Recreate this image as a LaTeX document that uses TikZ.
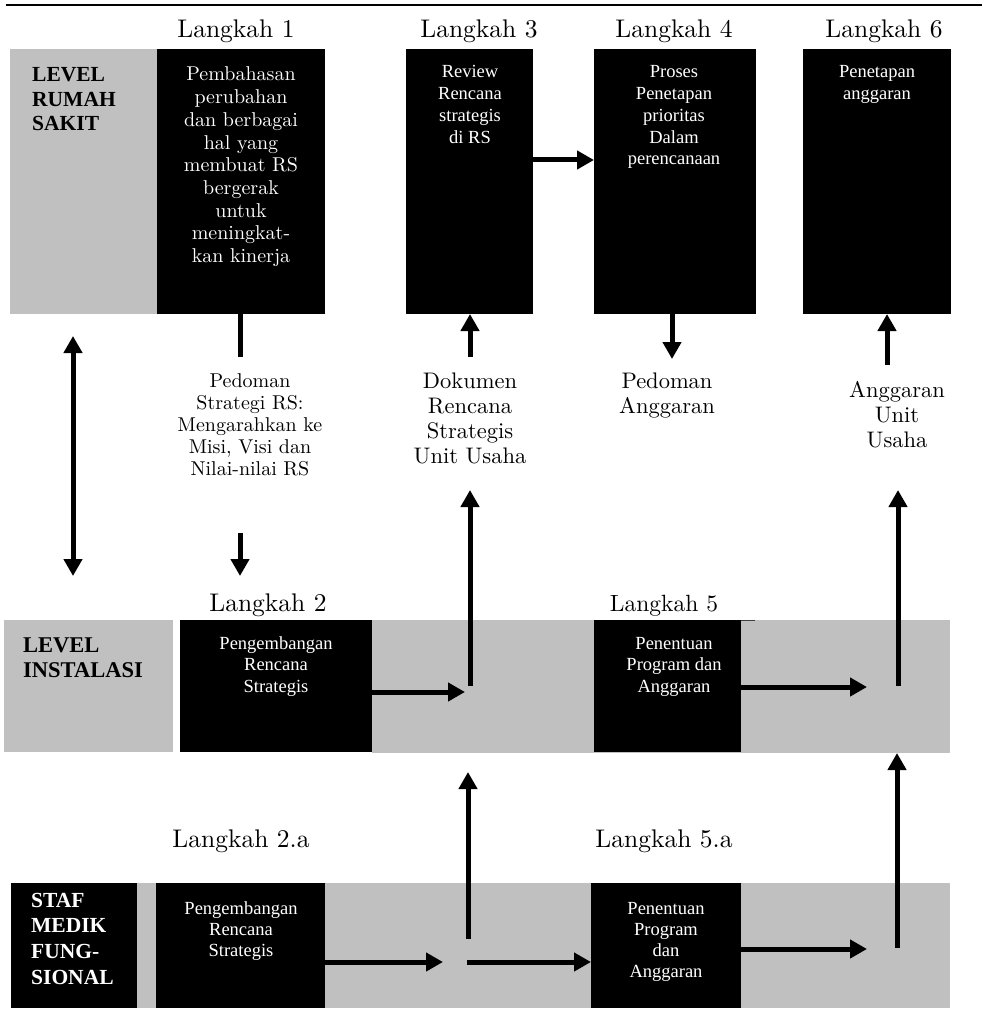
\documentclass[tikz,border=0pt]{standalone}
\usepackage{fontspec}
% keep the 10pt design of Latin Modern at every size
\setmainfont{lmroman10-regular.otf}[BoldFont=lmroman10-bold.otf, ItalicFont=lmroman10-italic.otf]
\newfontfamily\timesf{Liberation Serif}
\usetikzlibrary{arrows.meta}
\definecolor{lanegray}{HTML}{C0C0C0}
% stacked lines of text whose baseline is the first line
\newcommand{\colblock}[2][c]{\begin{tabular}[t]{@{}#1@{}}#2\end{tabular}}
\begin{document}
\begin{tikzpicture}[x=1pt,y=-1pt,
  panel/.style={fill=#1, draw=none, inner sep=0pt, outer sep=0pt, anchor=north west},
  steplabel/.style={inner sep=0pt, anchor=base, font=\fontsize{25.5pt}{28pt}\selectfont},
  inner/.style={inner sep=0pt, anchor=base, text=white, font=\timesf\fontsize{18.5pt}{21.7pt}\selectfont},
  lanename/.style={inner sep=0pt, anchor=base west, font=\timesf\bfseries\fontsize{22.5pt}{25pt}\selectfont},
  note/.style={inner sep=0pt, anchor=base, font=\fontsize{22.5pt}{25.3pt}\selectfont},
  tip/.tip={Triangle[width=18pt,length=17pt]},
  arr/.style={line width=5pt, -tip},
  dblarr/.style={line width=5pt, tip-tip},
  stub/.style={line width=5pt}
]
\useasboundingbox (0,0) rectangle (982,1011);

% rule across the top
\draw[line width=2.5pt] (6,5) -- (982,5);

% ---- hospital level ----
\node[panel=lanegray, minimum width=147pt, minimum height=265pt] (hosp) at (10,49) {};
\node[panel=black, minimum width=168pt, minimum height=265pt] (s1) at (157,49) {};
\node[panel=black, minimum width=127pt, minimum height=265pt] (s3) at (406,49) {};
\node[panel=black, minimum width=162pt, minimum height=265pt] (s4) at (594,49) {};
\node[panel=black, minimum width=148pt, minimum height=265pt] (s6) at (803,49) {};

% ---- installation level ----
\node[panel=lanegray, minimum width=169pt, minimum height=132pt] (inst) at (4,620) {};
\node[panel=lanegray, minimum width=578pt, minimum height=133pt] (instlane) at (372,620) {};
\node[panel=black, minimum width=192pt, minimum height=132pt] (s2) at (180,620) {};
\node[panel=black, minimum width=147pt, minimum height=132pt] (s5) at (594,620) {};
\draw[line width=0.6pt, black!75] (s5.north east) -- ++(14,0);

% ---- functional medical staff level ----
\node[panel=lanegray, minimum width=813pt, minimum height=125pt] (smflane) at (137,883) {};
\node[panel=black, minimum width=126pt, minimum height=125pt] (smf) at (11,883) {};
\node[panel=black, minimum width=169pt, minimum height=125pt] (s2a) at (156,883) {};
\node[panel=black, minimum width=150pt, minimum height=125pt] (s5a) at (591,883) {};

% ---- step labels ----
\node[steplabel] (t1) at (236,38) {Langkah 1};
\node[steplabel] (t3) at (479,38) {Langkah 3};
\node[steplabel] (t4) at (674,38) {Langkah 4};
\node[steplabel] (t6) at (884,38) {Langkah 6};
\node[steplabel] (t2) at (268,611) {Langkah 2};
\node[steplabel, font=\fontsize{23.5pt}{26pt}\selectfont] (t5) at (664,611) {Langkah 5};
\node[steplabel] (t2a) at (241,847) {Langkah 2.a};
\node[steplabel] (t5a) at (664,847) {Langkah 5.a};

% ---- level names ----
\node[lanename, font=\timesf\bfseries\fontsize{21.5pt}{24.5pt}\selectfont] (hospname) at (32,82)
  {\colblock[l]{LEVEL\\RUMAH\\SAKIT}};
\node[lanename] (instname) at (23,652) {\colblock[l]{LEVEL\\INSTALASI}};
\node[lanename, text=white, font=\timesf\bfseries\fontsize{21.5pt}{25.7pt}\selectfont] (smfname) at (31,907)
  {\colblock[l]{STAF\\MEDIK\\FUNG-\\SIONAL}};

% ---- texts inside the steps ----
\node[inner, font=\fontsize{20pt}{22.7pt}\selectfont] (b1) at (241,81)
  {\colblock{Pembahasan\\perubahan\\dan berbagai\\hal yang\\membuat RS\\bergerak\\untuk\\meningkat-\\kan kinerja}};
\node[inner] (b3) at (470,78) {\colblock{Review\\Rencana\\strategis\\di RS}};
\node[inner] (b4) at (674,78) {\colblock{Proses\\Penetapan\\prioritas\\Dalam\\perencanaan}};
\node[inner] (b6) at (877,78) {\colblock{Penetapan\\anggaran}};
\node[inner] (b2) at (276,649) {\colblock{Pengembangan\\Rencana\\Strategis}};
\node[inner] (b5) at (674,649) {\colblock{Penentuan\\Program dan\\Anggaran}};
\node[inner, font=\timesf\fontsize{18.5pt}{21pt}\selectfont] (b2a) at (241,914) {\colblock{Pengembangan\\Rencana\\Strategis}};
\node[inner, font=\timesf\fontsize{18.5pt}{21.3pt}\selectfont] (b5a) at (666,914) {\colblock{Penentuan\\Program\\dan\\Anggaran}};

% ---- documents passed between levels ----
\node[note, font=\fontsize{20pt}{22pt}\selectfont] (pedoman) at (250,387)
  {\colblock{Pedoman\\Strategi RS:\\Mengarahkan ke\\Misi, Visi dan\\Nilai-nilai RS}};
\node[note] (dokumen) at (470,388) {\colblock{Dokumen\\Rencana\\Strategis\\Unit Usaha}};
\node[note] (pedang) at (667,388) {\colblock{Pedoman\\Anggaran}};
\node[note, font=\fontsize{22.5pt}{25pt}\selectfont] (angunit) at (897,397) {\colblock{Anggaran\\Unit\\Usaha}};

% ---- connectors ----
\coordinate (d1) at (240,357);
\draw[stub] (s1.south -| d1) -- (d1);
\coordinate (d2) at (240,533);
\coordinate (s2in) at (240,576);
\draw[arr] (d2) -- (s2in);

\coordinate (lvA) at (73,336);
\coordinate (lvB) at (73,576);
\draw[dblarr] (lvA) -- (lvB);

\coordinate (dk) at (470,357);
\draw[arr] (dk) -- (dk |- s3.south);
\draw[arr] ([yshift=21.5pt]s3.east) -- ([yshift=21.5pt]s4.west);
\coordinate (pa) at (672,359);
\draw[arr] (s4.south -| pa) -- (pa);
\coordinate (au) at (887,365);
\draw[arr] (au) -- (au |- s6.south);

\coordinate (j2) at (470,686);
\coordinate (j2top) at (470,490);
\draw[arr] (j2) -- (j2top);
\coordinate (j2in) at (465,692);
\draw[arr] (s2.east |- j2in) -- (j2in);

\coordinate (j5) at (898,686);
\coordinate (j5top) at (898,490);
\draw[arr] (j5) -- (j5top);
\coordinate (j5in) at (867,687);
\draw[arr] (s5.east |- j5in) -- (j5in);

\coordinate (k2) at (468,939);
\coordinate (k2top) at (468,772);
\draw[arr] (k2) -- (k2top);
\coordinate (k2in) at (443,962);
\draw[arr] (s2a.east |- k2in) -- (k2in);
\coordinate (k2out) at (467,962);
\draw[arr] (k2out) -- (s5a.west |- k2out);

\coordinate (k5) at (897,948);
\draw[arr] (k5) -- (k5 |- instlane.south);
\coordinate (k5in) at (867,949);
\draw[arr] (s5a.east |- k5in) -- (k5in);
\end{tikzpicture}
\end{document}
